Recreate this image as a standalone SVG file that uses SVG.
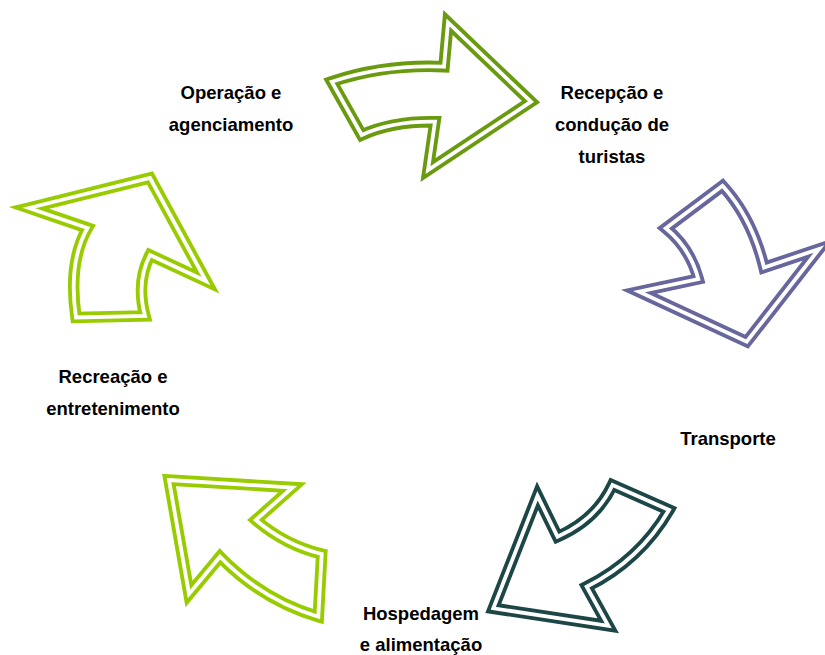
<svg xmlns="http://www.w3.org/2000/svg" width="825" height="655" viewBox="0 0 825 655">
<style>
.o{fill:none;stroke-width:11.5;stroke-linejoin:miter;stroke-miterlimit:20}
.i{fill:none;stroke:#fff;stroke-width:3.8;stroke-linejoin:miter;stroke-miterlimit:20}
.t{font-family:"Liberation Sans",Arial,sans-serif;font-weight:bold;font-size:18.5px;fill:#000;text-anchor:middle}
</style>
<defs>
<path id="p1" d="M331.7,81.7 Q385,64 444,66.7 L448,22.5 L531,101.7 L428,170 L435,121.7 Q392,121 361.7,135 Z"/>
<path id="p2" d="M722.5,185.8 L665.8,228.3 Q690,248 698.3,279 L639,291.7 L746.7,341.7 L819,249 L764,267.5 Q752,218 722.5,185.8 Z"/>
<path id="p3" d="M612.5,485 L669,510 Q640,560 586.7,586.7 L608.3,625.8 L493.3,608.3 L537.5,495.8 L557.5,536.7 Q596,520 612.5,485 Z"/>
<path id="p4" d="M169,480 L292.5,487.5 L255.8,520 Q285,545 321.7,554 L318.3,616.7 Q262,600 220,556.7 L189,594 Z"/>
<path id="p5" d="M29,208 L150,178 L206,281 L150,255 Q136,282 145,316 L76,317.5 Q68,262 87.5,228 Z"/>
</defs>
<g id="connectors">
<g id="arrow1"><use href="#p1" class="o" stroke="#6A9A10"/><use href="#p1" class="i"/></g>
<g id="arrow2"><use href="#p2" class="o" stroke="#67679D"/><use href="#p2" class="i"/></g>
<g id="arrow3"><use href="#p3" class="o" stroke="#1D4646"/><use href="#p3" class="i"/></g>
<g id="arrow4"><use href="#p4" class="o" stroke="#99CC00"/><use href="#p4" class="i"/></g>
<g id="arrow5"><use href="#p5" class="o" stroke="#99CC00"/><use href="#p5" class="i"/></g>
</g>
<g id="node-operacao"><text class="t" x="231" y="99">Operação e</text><text class="t" x="231" y="131">agenciamento</text></g>
<g id="node-recepcao"><text class="t" x="612" y="99">Recepção e</text><text class="t" x="612" y="131">condução de</text><text class="t" x="612" y="163">turistas</text></g>
<g id="node-transporte"><text class="t" x="728" y="445">Transporte</text></g>
<g id="node-hospedagem"><text class="t" x="421" y="620">Hospedagem</text><text class="t" x="421" y="651">e alimentação</text></g>
<g id="node-recreacao"><text class="t" x="113" y="383">Recreação e</text><text class="t" x="113" y="415">entretenimento</text></g>
</svg>
